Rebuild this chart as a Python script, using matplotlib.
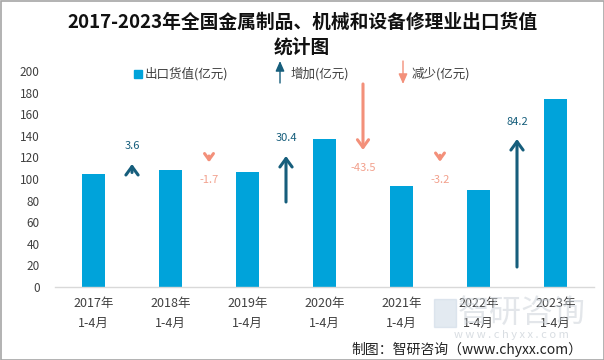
import matplotlib
matplotlib.use("Agg")
import matplotlib.pyplot as plt
from matplotlib.patches import Rectangle

plt.rcParams['font.family'] = ['Noto Sans CJK SC', 'DejaVu Sans']

# ---- data ----
categories = ['2017年\n1-4月', '2018年\n1-4月', '2019年\n1-4月', '2020年\n1-4月',
              '2021年\n1-4月', '2022年\n1-4月', '2023年\n1-4月']
export_values = [104.6, 108.2, 106.5, 136.9, 93.4, 90.2, 174.4]
changes = [3.6, -1.7, 30.4, -43.5, -3.2, 84.2]
change_labels = ['3.6', '-1.7', '30.4', '-43.5', '-3.2', '84.2']
arrow_start = [106.0, 121.3, 78.7, 188.0, 122.0, 18.5]
arrow_end = [113.9, 115.5, 121.3, 126.9, 116.0, 137.0]
label_y = [131.0, 99.0, 138.0, 110.5, 99.0, 153.0]
yticks = [0, 20, 40, 60, 80, 100, 120, 140, 160, 180, 200]

title = '2017-2023年全国金属制品、机械和设备修理业出口货值\n统计图'
legend_labels = ['出口货值(亿元)', '增加(亿元)', '减少(亿元)']
source = '制图：智研咨询（www.chyxx.com）'

BAR = '#00A3DA'
UP = '#165E7C'
DOWN = '#F3907A'
DOWN_TXT = '#F2A08C'
TICK = '#404040'

W, H = 604, 360
fig = plt.figure(figsize=(W / 100, H / 100), dpi=100)
ax = fig.add_axes([55 / W, 1 - 287 / H, (594 - 55) / W, (287 - 71) / H])

x = list(range(len(categories)))
ax.bar(x, export_values, width=0.31, color=BAR, zorder=2)

for i, ch in enumerate(changes):
    xm = i + 0.5
    col = UP if ch >= 0 else DOWN
    ms = 11 if ch >= 0 else 10
    if ch < 0 and abs(arrow_end[i] - arrow_start[i]) < 10:
        ms = 8
    ax.annotate('', xy=(xm, arrow_end[i]), xytext=(xm, arrow_start[i]),
                arrowprops=dict(arrowstyle='->,head_length=0.55,head_width=0.4',
                                color=col, lw=2.2, shrinkA=0, shrinkB=0,
                                mutation_scale=ms),
                zorder=3)
    ax.text(xm, label_y[i], change_labels[i], ha='center', va='center',
            fontsize=8, color=UP if ch >= 0 else DOWN_TXT, zorder=4)

ax.set_xlim(-0.5, len(categories) - 0.5)
ax.set_ylim(0, 200)
ax.set_yticks(yticks)
ax.set_xticks(x)
ax.set_xticklabels(categories, fontsize=9, color=TICK, linespacing=1.7)
ax.tick_params(axis='y', length=0, pad=11, labelsize=8.5, labelcolor=TICK)
ax.tick_params(axis='x', length=0, pad=7)
for s in ['top', 'right', 'left']:
    ax.spines[s].set_visible(False)
ax.spines['bottom'].set_color('#D9D9D9')
ax.spines['bottom'].set_linewidth(1)

# title
fig.text(302 / W, 1 - 35 / H, title, ha='center', va='center', fontsize=13.5,
         fontweight='bold', color='#111111', linespacing=1.4)

# legend (manual)
fig.patches.append(Rectangle((134 / W, 1 - 78 / H), 8 / W, 8 / H,
                             transform=fig.transFigure, color=BAR))
fig.text(145 / W, 1 - 74 / H, legend_labels[0], ha='left', va='center',
         fontsize=9, color=TICK)
ax.annotate('', xy=(280 / W, 1 - 61 / H), xytext=(280 / W, 1 - 83 / H),
            xycoords='figure fraction', textcoords='figure fraction',
            arrowprops=dict(arrowstyle='-|>,head_length=0.5,head_width=0.22',
                            color=UP, lw=1, shrinkA=0, shrinkB=0,
                            mutation_scale=12))
fig.text(291 / W, 1 - 74 / H, legend_labels[1], ha='left', va='center',
         fontsize=9, color=TICK)
ax.annotate('', xy=(403 / W, 1 - 84 / H), xytext=(403 / W, 1 - 61 / H),
            xycoords='figure fraction', textcoords='figure fraction',
            arrowprops=dict(arrowstyle='-|>,head_length=0.5,head_width=0.22',
                            color=DOWN, lw=1, shrinkA=0, shrinkB=0,
                            mutation_scale=12))
fig.text(412 / W, 1 - 74 / H, legend_labels[2], ha='left', va='center',
         fontsize=9, color=TICK)

# watermark
fig.text(458 / W, 1 - 313 / H, '智研咨询', ha='left', va='center', fontsize=23,
         color='#C8CFD6', alpha=0.5, zorder=0)
fig.patches.append(Rectangle((434 / W, 1 - 327 / H), 22 / W, 28 / H,
                             transform=fig.transFigure, color='#C8D6E4',
                             alpha=0.5, zorder=0))
fig.text(511 / W, 1 - 335 / H, 'w w w . c h y x x . c o m', ha='center',
         va='center', fontsize=8, color='#C8CFD6', alpha=0.7, zorder=0)

# source
fig.text(582 / W, 1 - 349 / H, source, ha='right', va='center', fontsize=10,
         color='#222222')

# border
fig.patches.append(Rectangle((0.5 / W, 0.5 / H), (W - 1) / W, (H - 1) / H,
                             transform=fig.transFigure, fill=False,
                             edgecolor='#A6A6A6', lw=1.2))

fig.savefig('out.png', dpi=100)
